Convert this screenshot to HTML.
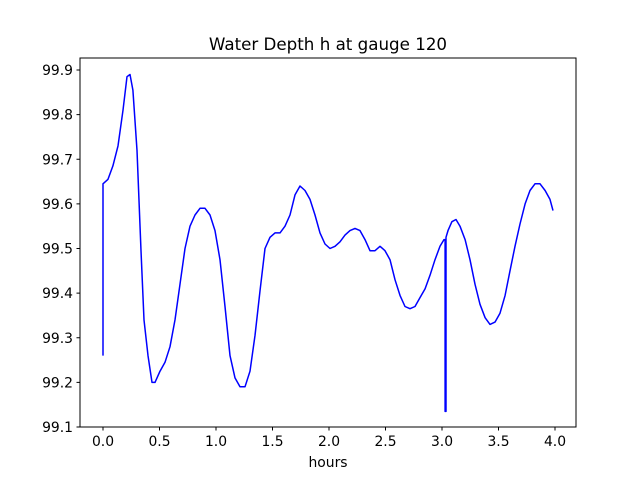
<!DOCTYPE html>
<html><head><meta charset="utf-8"><style>
body{margin:0;background:#fff;}
svg text{font-family:"DejaVu Sans","Liberation Sans",sans-serif;font-size:13.9px;fill:#000;}
</style></head><body>
<svg id="chart" width="640" height="480">
<rect x="0" y="0" width="640" height="480" fill="#fff"/>
<text x="328" y="50" text-anchor="middle" style="font-size:16.7px">Water Depth h at gauge 120</text>
<text x="328" y="467" text-anchor="middle">hours</text>
<g id="ticks"></g>
<path id="line" fill="none" stroke="#0000ff" stroke-width="1.5" stroke-linejoin="round"/>
<rect x="80" y="58" width="496" height="369" fill="none" stroke="#000" stroke-width="1"/>
</svg>
<script>
const xTicks=[0,0.5,1,1.5,2,2.5,3,3.5,4];
const xTickLabels=["0.0","0.5","1.0","1.5","2.0","2.5","3.0","3.5","4.0"];
const yTicks=[99.1,99.2,99.3,99.4,99.5,99.6,99.7,99.8,99.9];
const yTickLabels=["99.1","99.2","99.3","99.4","99.5","99.6","99.7","99.8","99.9"];
const times=[0,0,0.044,0.088,0.133,0.177,0.212,0.239,0.265,0.301,0.336,0.363,0.398,0.434,0.46,0.504,0.549,0.593,0.637,0.681,0.726,0.77,0.814,0.858,0.903,0.947,0.991,1.035,1.08,1.124,1.168,1.212,1.257,1.301,1.345,1.389,1.434,1.478,1.522,1.566,1.611,1.655,1.699,1.743,1.788,1.832,1.876,1.92,1.965,2.009,2.053,2.097,2.142,2.186,2.23,2.274,2.319,2.363,2.407,2.451,2.496,2.54,2.584,2.628,2.673,2.717,2.761,2.805,2.85,2.894,2.938,2.982,3.018,3.027,3.027,3.035,3.035,3.053,3.088,3.124,3.159,3.204,3.248,3.292,3.336,3.381,3.425,3.469,3.513,3.558,3.602,3.646,3.69,3.735,3.779,3.823,3.867,3.912,3.956,3.982];
const depths=[99.26,99.645,99.655,99.685,99.73,99.81,99.885,99.89,99.855,99.72,99.495,99.34,99.26,99.2,99.2,99.225,99.245,99.28,99.34,99.42,99.5,99.55,99.575,99.59,99.59,99.575,99.54,99.475,99.37,99.26,99.21,99.19,99.19,99.225,99.305,99.405,99.5,99.525,99.535,99.535,99.55,99.575,99.62,99.64,99.63,99.61,99.575,99.535,99.51,99.5,99.505,99.515,99.53,99.54,99.545,99.54,99.52,99.495,99.495,99.505,99.495,99.475,99.43,99.395,99.37,99.365,99.37,99.39,99.41,99.44,99.475,99.505,99.52,99.52,99.135,99.135,99.525,99.54,99.56,99.565,99.55,99.52,99.475,99.42,99.375,99.345,99.33,99.335,99.355,99.395,99.45,99.505,99.555,99.6,99.63,99.645,99.645,99.63,99.61,99.585];
const X=t=>103+t*113;
const Y=v=>427-(v-99.1)/0.8*357;
const NS="http://www.w3.org/2000/svg";
const g=document.getElementById('ticks');
xTicks.forEach((t,i)=>{
  const l=document.createElementNS(NS,'line');
  l.setAttribute('x1',X(t));l.setAttribute('x2',X(t));l.setAttribute('y1',427);l.setAttribute('y2',430.5);l.setAttribute('stroke','#000');
  
  
  g.appendChild(l);
  const s=document.createElementNS(NS,'text');
  s.setAttribute('x',X(t));s.setAttribute('y',446);s.setAttribute('text-anchor','middle');s.textContent=xTickLabels[i];
  
  
  g.appendChild(s);
});
yTicks.forEach((v,i)=>{
  const l=document.createElementNS(NS,'line');
  l.setAttribute('x1',76.5);l.setAttribute('x2',80);l.setAttribute('y1',Y(v));l.setAttribute('y2',Y(v));l.setAttribute('stroke','#000');
  
  
  g.appendChild(l);
  const s=document.createElementNS(NS,'text');
  s.setAttribute('x',73);s.setAttribute('y',Y(v)+5);s.setAttribute('text-anchor','end');s.textContent=yTickLabels[i];
  
  
  g.appendChild(s);
});
document.getElementById('line').setAttribute('d',times.map((t,i)=>(i?'L':'M')+X(t).toFixed(1)+','+Y(depths[i]).toFixed(1)).join(''));
</script>
</body></html>
